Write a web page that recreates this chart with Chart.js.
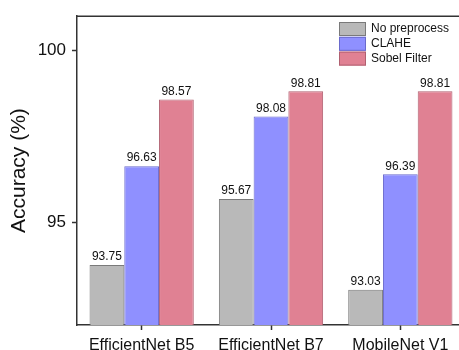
<!DOCTYPE html>
<html><head><meta charset="utf-8">
<script src="https://cdn.jsdelivr.net/npm/chart.js@4.4.0/dist/chart.umd.min.js"></script>
<style>html,body{margin:0;padding:0;overflow:hidden;background:#fff}#wrap{width:466px;height:350px;position:relative}</style>
</head><body><div id="wrap"><canvas id="c" width="466" height="350"></canvas></div>
<script>
const categories = ["EfficientNet B5", "EfficientNet B7", "MobileNet V1"];
const seriesNames = ["No preprocess", "CLAHE", "Sobel Filter"];
const noPreprocess = [93.75, 95.67, 93.03];
const clahe = [96.63, 98.08, 96.39];
const sobel = [98.57, 98.81, 98.81];
const yTicks = [95, 100];

const FONT = "'Liberation Sans', Arial, sans-serif";
const fills = ["#b9b9b9", "#8f90ff", "#e08193"];
const borders = ["#7a7a7a", "#6a6acc", "#b06070"];

const valueLabels = {
  id: 'valueLabels',
  afterDatasetsDraw(chart) {
    const ctx = chart.ctx;
    ctx.save();
    ctx.font = "12px " + FONT;
    ctx.fillStyle = "#111";
    ctx.textAlign = "center";
    ctx.textBaseline = "bottom";
    chart.data.datasets.forEach((ds, i) => {
      chart.getDatasetMeta(i).data.forEach((el, j) => {
        ctx.fillText(ds.data[j].toFixed(2), el.x, el.y - 2);
      });
    });
    ctx.restore();
  }
};

const frameAndLegend = {
  id: 'frameAndLegend',
  afterDraw(chart) {
    const ctx = chart.ctx, a = chart.chartArea;
    ctx.save();
    ctx.strokeStyle = "#333";
    ctx.lineWidth = 1.5;
    ctx.beginPath();
    ctx.moveTo(a.left, a.top);
    ctx.lineTo(a.right, a.top);
    ctx.stroke();
    // legend
    ctx.font = "12px " + FONT;
    ctx.textBaseline = "middle";
    ctx.textAlign = "left";
    chart.data.datasets.forEach((ds, i) => {
      const yc = 29 + i * 14.8;
      ctx.fillStyle = ds.backgroundColor;
      ctx.fillRect(339, yc - 7, 27, 14);
      ctx.strokeStyle = ds.borderColor;
      ctx.lineWidth = 1;
      ctx.strokeRect(339.5, yc - 6.5, 26, 13);
      ctx.fillStyle = "#111";
      ctx.fillText(ds.label, 371, yc);
    });
    ctx.restore();
  }
};

new Chart(document.getElementById('c'), {
  type: 'bar',
  data: {
    labels: categories,
    datasets: [noPreprocess, clahe, sobel].map((d, i) => ({
      label: seriesNames[i],
      data: d,
      backgroundColor: fills[i],
      borderColor: borders[i],
      borderWidth: 1,
      barPercentage: 1,
      categoryPercentage: 0.806
    }))
  },
  options: {
    responsive: false,
    animation: false,
    devicePixelRatio: 1,
    layout: { padding: { top: 13, right: 1, bottom: 0, left: 0 } },
    plugins: { legend: { display: false }, tooltip: { enabled: false } },
    scales: {
      x: {
        grid: { display: true, offset: false, drawOnChartArea: false, tickLength: 5, tickColor: "#333", tickWidth: 1.5 },
        border: { display: true, color: "#333", width: 1.5 },
        ticks: { color: "#111", font: { family: FONT, size: 16 }, padding: 6, maxRotation: 0 },
        afterFit(s) { s.height = 25; }
      },
      y: {
        min: 92, max: 101,
        afterBuildTicks(s) { s.ticks = yTicks.map(v => ({ value: v })); },
        grid: { display: true, drawOnChartArea: false, tickLength: 5, tickColor: "#333", tickWidth: 1.5 },
        border: { display: true, color: "#333", width: 1.5 },
        ticks: { color: "#111", font: { family: FONT, size: 17 }, padding: 6 },
        title: { display: true, text: "Accuracy (%)", color: "#111", font: { family: FONT, size: 21 }, padding: { top: 7, bottom: 0 } },
        afterFit(s) { s.width = 77; }
      }
    }
  },
  plugins: [valueLabels, frameAndLegend]
});
</script></body></html>
